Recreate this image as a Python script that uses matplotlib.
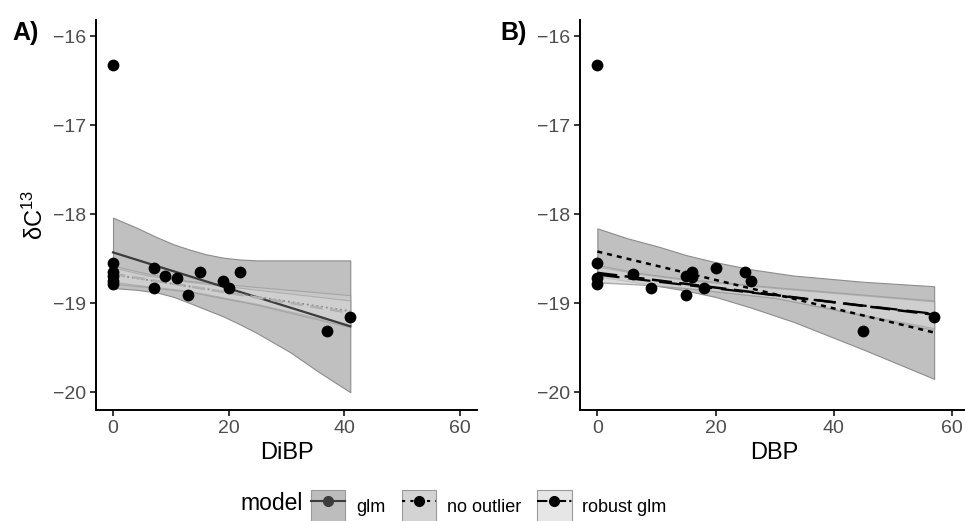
import matplotlib
matplotlib.use('Agg')
import matplotlib.pyplot as plt
from matplotlib.lines import Line2D
from matplotlib.patches import Patch

plt.rcParams['font.family'] = ['Liberation Sans', 'DejaVu Sans']
plt.rcParams['mathtext.default'] = 'regular'

# panel A: DiBP
dibp = [0, 0, 0, 0, 0, 0, 7, 7, 9, 11, 13, 15, 19, 20, 22, 37, 41]
d13c_a = [-16.32, -18.55, -18.65, -18.70, -18.75, -18.78, -18.61, -18.83, -18.70,
          -18.72, -18.91, -18.65, -18.75, -18.83, -18.65, -19.31, -19.15]

# panel B: DBP
dbp = [0, 0, 0, 0, 6, 9, 15, 15, 16, 16, 18, 20, 25, 26, 45, 57]
d13c_b = [-16.32, -18.55, -18.72, -18.78, -18.67, -18.83, -18.69, -18.91, -18.65,
          -18.71, -18.83, -18.61, -18.65, -18.75, -19.31, -19.15]

models = ['glm', 'no outlier', 'robust glm']

# fitted lines (ends of each fit)
fit_x_a = [0, 41]
fit_a = {'glm': [-18.43, -19.26], 'no outlier': [-18.68, -19.09], 'robust glm': [-18.67, -19.11]}
fit_x_b = [0, 57]
fit_b = {'glm': [-18.42, -19.33], 'no outlier': [-18.66, -19.13], 'robust glm': [-18.68, -19.12]}

# confidence bands
band_x_a = {'glm': [0, 4, 7.6, 10.5, 13.3, 16, 19.1, 22, 25, 30.6, 35.5, 41],
            'no outlier': [0, 6, 13, 25, 41], 'robust glm': [0, 6, 13, 25, 41]}
band_lo_a = {'glm': [-18.83, -18.85, -18.88, -18.93, -19.00, -19.07, -19.15, -19.24,
                     -19.34, -19.55, -19.77, -20.00],
             'no outlier': [-18.78, -18.82, -18.87, -19.02, -19.27],
             'robust glm': [-18.76, -18.81, -18.86, -19.01, -19.25]}
band_hi_a = {'glm': [-18.04, -18.15, -18.26, -18.34, -18.40, -18.45, -18.49, -18.51,
                     -18.52, -18.52, -18.52, -18.52],
             'no outlier': [-18.58, -18.67, -18.75, -18.82, -18.91],
             'robust glm': [-18.60, -18.69, -18.76, -18.85, -18.97]}

band_x_b = {'glm': [0, 5, 10.6, 15, 20, 26, 33.2, 45, 57],
            'no outlier': [0, 7, 15, 30, 57], 'robust glm': [0, 7, 15, 30, 57]}
band_lo_b = {'glm': [-18.70, -18.75, -18.81, -18.86, -18.93, -19.05, -19.21, -19.52, -19.85],
             'no outlier': [-18.77, -18.79, -18.83, -18.94, -19.30],
             'robust glm': [-18.76, -18.79, -18.83, -18.94, -19.28]}
band_hi_b = {'glm': [-18.16, -18.27, -18.37, -18.46, -18.54, -18.62, -18.69, -18.76, -18.81],
             'no outlier': [-18.57, -18.66, -18.73, -18.82, -18.97],
             'robust glm': [-18.59, -18.67, -18.74, -18.83, -18.98]}

fills = {'glm': '#c0c0c0', 'no outlier': '#cdcdcd', 'robust glm': '#d9d9d9'}
alphas = {'glm': 1.0, 'no outlier': 0.55, 'robust glm': 0.45}
key_fills = {'glm': '#bdbdbd', 'no outlier': '#d3d3d3', 'robust glm': '#e6e6e6'}
line_a = {'glm': ('#3c3c3c', '-', 1.6), 'no outlier': ('#8a8a8a', ':', 1.3),
          'robust glm': ('#b0b0b0', (0, (5, 3)), 1.8)}
line_b = {'glm': ('black', (0, (2, 2)), 1.8), 'no outlier': ('black', (0, (8, 3)), 1.8),
          'robust glm': ('black', (0, (10, 4)), 1.6)}

fig = plt.figure(figsize=(9.65, 5.21), dpi=100)
ax_a = fig.add_axes([96 / 965, 111 / 521, 381 / 965, 390 / 521])
ax_b = fig.add_axes([580 / 965, 111 / 521, 389 / 965, 390 / 521])


def draw_panel(ax, x, y, fx, fits, bx, blo, bhi, styles, xlabel):
    for m in models:
        ax.fill_between(bx[m], blo[m], bhi[m], color=fills[m], alpha=alphas[m],
                        edgecolor='#8c8c8c', linewidth=0.8, zorder=1)
    for m in models:
        c, ls, lw = styles[m]
        ax.plot(fx, fits[m], color=c, linestyle=ls, linewidth=lw, zorder=2)
    ax.scatter(x, y, s=72, color='black', zorder=3, linewidths=0)
    ax.set_xlim(-2.94, 62.9)
    ax.set_ylim(-20.2, -15.82)
    ax.set_xticks([0, 20, 40, 60])
    ax.set_yticks([-16, -17, -18, -19, -20])
    ax.set_yticklabels(['\u221216', '\u221217', '\u221218', '\u221219', '\u221220'])
    for s in ['top', 'right']:
        ax.spines[s].set_visible(False)
    for s in ['left', 'bottom']:
        ax.spines[s].set_linewidth(1.4)
    ax.tick_params(labelsize=14, labelcolor='#4d4d4d', length=4, width=1.1, pad=3)
    ax.set_xlabel(xlabel, fontsize=17, labelpad=4)


draw_panel(ax_a, dibp, d13c_a, fit_x_a, fit_a, band_x_a, band_lo_a, band_hi_a, line_a, 'DiBP')
draw_panel(ax_b, dbp, d13c_b, fit_x_b, fit_b, band_x_b, band_lo_b, band_hi_b, line_b, 'DBP')
ax_a.set_ylabel('\u03b4C$^{13}$', fontsize=17, labelpad=4)

fig.text(12 / 965, 1 - 33 / 521, 'A)', fontsize=18, fontweight='bold', va='center')
fig.text(500 / 965, 1 - 33 / 521, 'B)', fontsize=18, fontweight='bold', va='center')

# legend
fig.text(240 / 965, 1 - 504 / 521, 'model', fontsize=16.5, va='center')
handles = []
for m, ls in zip(models, ['-', (0, (1.5, 2.5)), (0, (5, 1.5, 1, 1.5))]):
    box = Patch(facecolor=key_fills[m], edgecolor='#9a9a9a', linewidth=0.8)
    ln = Line2D([], [], color='#3c3c3c' if m == 'glm' else 'black', linestyle=ls,
                marker='o', markersize=7, linewidth=1.5)
    handles.append((box, ln))
fig.legend(handles, models, loc='center left', bbox_to_anchor=(302 / 965, 1 - 506 / 521),
           ncol=3, frameon=False, fontsize=13, handlelength=1.9, handleheight=2.4,
           handletextpad=0.6, columnspacing=0.9, borderpad=0)

fig.savefig('out.png', dpi=100)
